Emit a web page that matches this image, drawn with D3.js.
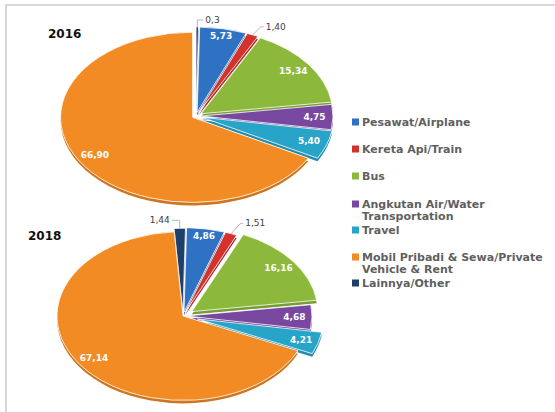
<!DOCTYPE html>
<html>
<head>
<meta charset="utf-8">
<script src="https://cdn.jsdelivr.net/npm/d3@7"></script>
<style>
  body { margin: 0; background: #fff; }
  #chart svg { display: block; font-family: "DejaVu Sans", sans-serif; }
</style>
</head>
<body>
<div id="chart"></div>
<script>
// categories in legend order
const categories = ["Pesawat/Airplane", "Kereta Api/Train", "Bus", "Angkutan Air/Water Transportation",
                    "Travel", "Mobil Pribadi & Sewa/Private Vehicle & Rent", "Lainnya/Other"];
const legendLines = [["Pesawat/Airplane"], ["Kereta Api/Train"], ["Bus"],
                     ["Angkutan Air/Water", "Transportation"], ["Travel"],
                     ["Mobil Pribadi & Sewa/Private", "Vehicle & Rent"], ["Lainnya/Other"]];
const years = ["2016", "2018"];
const values2016 = [5.73, 1.40, 15.34, 4.75, 5.40, 66.90, 0.3];
const values2018 = [4.86, 1.51, 16.16, 4.68, 4.21, 67.14, 1.44];
const labels2016 = ["5,73", "1,40", "15,34", "4,75", "5,40", "66,90", "0,3"];
const labels2018 = ["4,86", "1,51", "16,16", "4,68", "4,21", "67,14", "1,44"];
// slices go round clockwise from 12 o'clock in this order
const pieOrder = [6, 0, 1, 2, 3, 4, 5];

(function () {
  const width = 555, height = 412;
  const colors = ["#2f72c4", "#d4322c", "#8cb83c", "#7848a0", "#28a4c8", "#f28b24", "#1f3f6b"];

  // per-pie layout (centre, radius, tilt, how far each slice is pulled out)
  const layouts = [
    { cx: 196, cy: 116, r: 132, ky: 0.645, start: 0, depth: 3,
      explode: [6, 6, 6, 5, 6, 4, 6],
      title: [48, 38],
      leaders: { 6: [0, -7, 6], 1: [8, -8, 3] } },
    { cx: 183, cy: 316, r: 126, ky: 0.67, start: -4 * Math.PI / 180, depth: 3,
      explode: [6, 6, 11, 3, 15, 0, 5],
      title: [28, 240],
      leaders: { 6: [0, -8, -8], 1: [9, -10, 3] } }
  ];
  const allValues = [values2016, values2018];
  const allLabels = [labels2016, labels2018];

  const svg = d3.select("#chart").append("svg")
      .attr("width", width)
      .attr("height", height);

  // light frame on top and left
  svg.append("line").attr("x1", 5).attr("x2", width).attr("y1", 5).attr("y2", 5)
    .attr("stroke", "#d9d9d9").attr("stroke-width", 2);
  svg.append("line").attr("x1", 6).attr("x2", 6).attr("y1", 5).attr("y2", height)
    .attr("stroke", "#d9d9d9").attr("stroke-width", 2);

  years.forEach((year, yi) => {
    const L = layouts[yi];
    const vals = allValues[yi];
    const labs = allLabels[yi];

    const pie = d3.pie().sort(null).value(i => vals[i])
      .startAngle(L.start).endAngle(L.start + 2 * Math.PI);
    const arcs = pie(pieOrder);
    const arc = d3.arc().innerRadius(0).outerRadius(L.r);

    const mid = d => (d.startAngle + d.endAngle) / 2;
    const offset = d => {
      const e = L.explode[d.data];
      return [e * Math.sin(mid(d)), -e * Math.cos(mid(d)) * L.ky];
    };
    // point on the tilted pie at angle a and radius rr, for slice d
    const pt = (d, a, rr) => {
      const [ox, oy] = offset(d);
      return [L.cx + ox + rr * Math.sin(a), L.cy + oy - rr * Math.cos(a) * L.ky];
    };

    const g = svg.append("g");

    // side (thickness) first
    g.selectAll(".side")
      .data(arcs)
      .join("path")
      .attr("class", "side")
      .attr("transform", d => {
        const [ox, oy] = offset(d);
        return `translate(${L.cx + ox},${L.cy + oy + L.depth}) scale(1,${L.ky})`;
      })
      .attr("d", arc)
      .attr("fill", d => d3.color(colors[d.data]).darker(0.45));

    g.selectAll(".slice")
      .data(arcs)
      .join("path")
      .attr("class", "slice")
      .attr("transform", d => {
        const [ox, oy] = offset(d);
        return `translate(${L.cx + ox},${L.cy + oy}) scale(1,${L.ky})`;
      })
      .attr("d", arc)
      .attr("fill", d => colors[d.data])
      .attr("stroke", "#fff")
      .attr("stroke-width", 0.8)
      .attr("vector-effect", "non-scaling-stroke");

    // labels inside the bigger slices
    g.selectAll(".in-label")
      .data(arcs.filter(d => !L.leaders[d.data]))
      .join("text")
      .attr("class", "in-label")
      .attr("x", d => pt(d, mid(d), L.r * (d.data === 0 ? 0.92 : 0.86))[0])
      .attr("y", d => pt(d, mid(d), L.r * (d.data === 0 ? 0.92 : 0.86))[1])
      .attr("dy", "0.35em")
      .attr("text-anchor", "middle")
      .attr("font-size", 9)
      .attr("font-weight", "bold")
      .attr("fill", "#fff")
      .text(d => labs[d.data]);

    // small slices: label outside with a leader line
    const outs = arcs.filter(d => L.leaders[d.data]);
    outs.forEach(d => {
      const [dx1, dy1, dx2] = L.leaders[d.data];
      const p0 = pt(d, mid(d), L.r);
      const p1 = [p0[0] + dx1, p0[1] + dy1];
      const p2 = [p1[0] + dx2, p1[1]];
      g.append("path")
        .attr("d", d3.line()([p0, p1, p2]))
        .attr("fill", "none")
        .attr("stroke", "#a6a6a6")
        .attr("stroke-width", 0.8);
      g.append("text")
        .attr("x", p2[0] + (dx2 < 0 ? -2 : 2))
        .attr("y", p2[1])
        .attr("dy", "0.3em")
        .attr("text-anchor", dx2 < 0 ? "end" : "start")
        .attr("font-size", 9)
        .attr("fill", "#404040")
        .text(labs[d.data]);
    });

    svg.append("text")
      .attr("x", L.title[0])
      .attr("y", L.title[1])
      .attr("font-size", 12)
      .attr("font-weight", "bold")
      .attr("fill", "#111")
      .text(year);
  });

  // legend
  const legendY = [122, 149, 176, 204, 230, 257, 283];
  const legend = svg.append("g").attr("class", "legend");
  const items = legend.selectAll("g")
    .data(categories.map((c, i) => i))
    .join("g")
    .attr("transform", i => `translate(352,${legendY[i]})`);
  items.append("rect")
    .attr("x", 0).attr("y", -3.5)
    .attr("width", 7).attr("height", 7)
    .attr("fill", i => colors[i]);
  items.append("text")
    .attr("x", 10)
    .attr("y", 0)
    .attr("font-size", 11)
    .attr("font-weight", "bold")
    .attr("fill", "#5f5f5f")
    .selectAll("tspan")
    .data(i => legendLines[i])
    .join("tspan")
    .attr("x", 10)
    .attr("dy", (t, k) => k === 0 ? "0.35em" : "1.1em")
    .text(t => t);
})();
</script>
</body>
</html>
